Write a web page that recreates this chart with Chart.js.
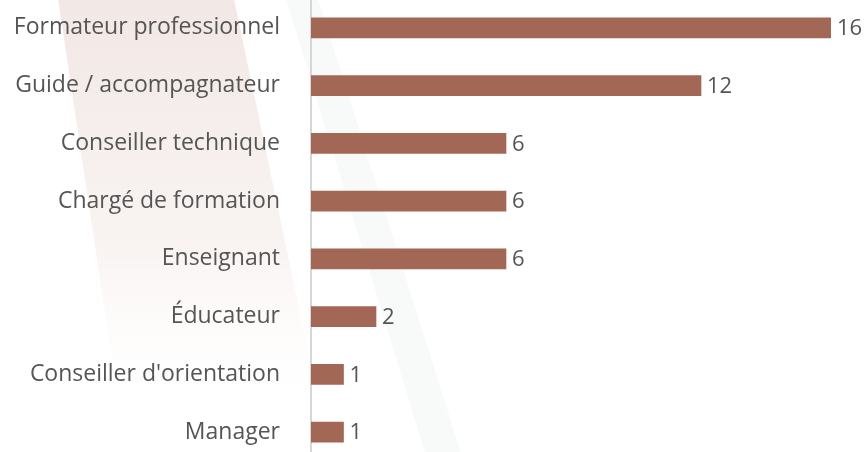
<!DOCTYPE html>
<html>
<head>
<meta charset="utf-8">
<script src="https://cdn.jsdelivr.net/npm/chart.js@4/dist/chart.umd.min.js"></script>
<style>
  html, body { margin: 0; padding: 0; background: #fff; overflow: hidden; }
  #wrap { position: absolute; left: 0; top: -1px; width: 865px; height: 462px; }
</style>
</head>
<body>
<div id="wrap"><canvas id="myChart"></canvas></div>
<script>
// donnees
const metiers = [
    "Formateur professionnel",
    "Guide / accompagnateur",
    "Conseiller technique",
    "Chargé de formation",
    "Enseignant",
    "Éducateur",
    "Conseiller d'orientation",
    "Manager"
];
const effectifs = [16, 12, 6, 6, 6, 2, 1, 1];

const barColor = "#a26755";
const textColor = "#555555";
const fontFamily = "'Open Sans', sans-serif";

// bandes decoratives en fond
const backdrop = {
    id: 'backdrop',
    beforeDraw(chart) {
        const ctx = chart.ctx;
        ctx.save();
        let g = ctx.createLinearGradient(0, 0, 0, 400);
        g.addColorStop(0, 'rgba(236,222,218,0.7)');
        g.addColorStop(0.6, 'rgba(240,228,224,0.45)');
        g.addColorStop(1, 'rgba(250,244,242,0)');
        ctx.fillStyle = g;
        ctx.beginPath();
        ctx.moveTo(58, 0);
        ctx.lineTo(234, 0);
        ctx.lineTo(318, 400);
        ctx.lineTo(118, 400);
        ctx.closePath();
        ctx.fill();

        ctx.fillStyle = 'rgba(240,242,242,0.45)';
        ctx.beginPath();
        ctx.moveTo(286, 0);
        ctx.lineTo(318, 0);
        ctx.lineTo(466, 470);
        ctx.lineTo(430, 470);
        ctx.closePath();
        ctx.fill();
        ctx.restore();
    }
};

// valeurs au bout des barres
const valueLabels = {
    id: 'valueLabels',
    afterDatasetsDraw(chart) {
        const ctx = chart.ctx;
        const meta = chart.getDatasetMeta(0);
        ctx.save();
        ctx.fillStyle = textColor;
        ctx.font = "22px " + fontFamily;
        ctx.textAlign = 'left';
        ctx.textBaseline = 'middle';
        meta.data.forEach((bar, i) => {
            ctx.fillText(effectifs[i], bar.x + 6, bar.y + 1);
        });
        ctx.restore();
    }
};

new Chart("myChart", {
    type: "bar",
    data: {
        labels: metiers,
        datasets: [{
            data: effectifs,
            backgroundColor: barColor,
            borderWidth: 0,
            barThickness: 20
        }]
    },
    options: {
        indexAxis: 'y',
        responsive: true,
        maintainAspectRatio: false,
        animation: false,
        layout: { padding: { left: 0, right: 34, top: 0, bottom: 0 } },
        plugins: {
            legend: { display: false },
            tooltip: { enabled: false }
        },
        scales: {
            x: {
                display: false,
                min: 0,
                max: 16
            },
            y: {
                grid: { display: false },
                border: { display: true, color: '#d6d6d6', width: 2 },
                ticks: {
                    color: textColor,
                    padding: 23,
                    font: { family: fontFamily, size: 23 }
                },
                afterFit(scale) {
                    scale.width = 311;
                    scale.paddingTop = 0;
                    scale.paddingBottom = 0;
                }
            }
        }
    },
    plugins: [backdrop, valueLabels]
});
</script>
</body>
</html>
